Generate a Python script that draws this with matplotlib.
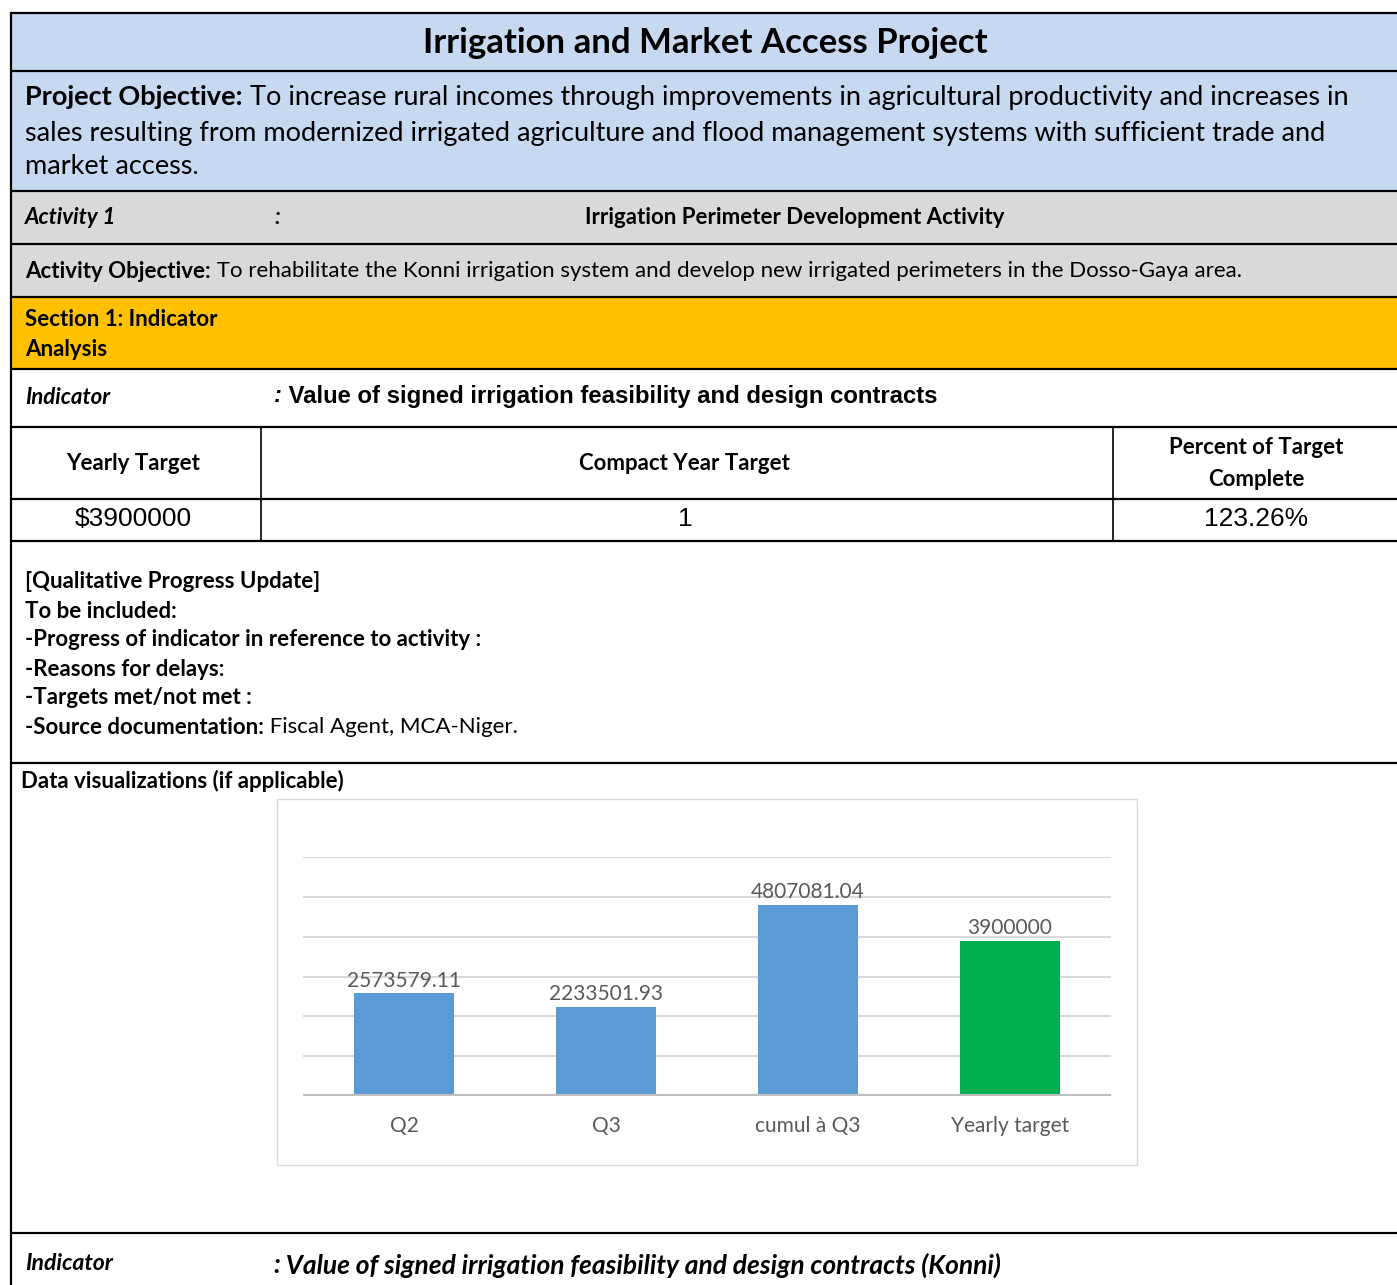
import matplotlib
matplotlib.use("Agg")
import matplotlib.pyplot as plt
from matplotlib.patches import Rectangle

# chart data
categories = ["Q2", "Q3", "cumul à Q3", "Yearly target"]
values = [2573579.11, 2233501.93, 4807081.04, 3900000]
value_labels = ["2573579.11", "2233501.93", "4807081.04", "3900000"]
bar_colors = ["#5B9BD5", "#5B9BD5", "#5B9BD5", "#00B050"]

W, H = 1397, 1285
fig = plt.figure(figsize=(W / 100, H / 100), dpi=100)
bg = fig.add_axes([0, 0, 1, 1])
bg.set_xlim(0, W)
bg.set_ylim(H, 0)
bg.axis("off")

CAL = "Lato"
ARIAL = "Liberation Sans"
LEFT = 11
FS = 16  # body text size

# row fills
rows = [(13, 71, "#C6D9F1"), (71, 191, "#C6D9F1"), (191, 244, "#D9D9D9"),
        (244, 297, "#D9D9D9"), (297, 369, "#FFC000")]
for top, bot, col in rows:
    bg.add_patch(Rectangle((LEFT, top), W - LEFT, bot - top, facecolor=col, edgecolor="none"))

# grid lines of the table
for y in [13, 71, 191, 244, 297, 369, 427, 499, 541, 763, 1233]:
    bg.plot([LEFT, W], [y, y], color="black", lw=1.6, solid_capstyle="butt")
bg.plot([LEFT, LEFT], [13, H], color="black", lw=1.6)
for x in [261, 1113]:
    bg.plot([x, x], [427, 541], color="black", lw=1.2)

renderer = fig.canvas.get_renderer()


def runs(x, y, parts, size, family=CAL):
    for txt, weight, style in parts:
        t = bg.text(x, y, txt, fontsize=size, fontweight=weight, fontstyle=style,
                    family=family, va="center", ha="left", color="black")
        bb = t.get_window_extent(renderer=renderer)
        x = bg.transData.inverted().transform((bb.x1, bb.y0))[0]


bg.text(705, 43, "Irrigation and Market Access Project", fontsize=25, fontweight="bold",
        family=CAL, ha="center", va="center")

runs(25, 97, [("Project Objective:", "bold", "normal"),
              (" To increase rural incomes through improvements in agricultural productivity and increases in",
               "normal", "normal")], 19.5)
runs(25, 133, [("sales resulting from modernized irrigated agriculture and flood management systems with sufficient trade and",
                "normal", "normal")], 19.5)
runs(25, 167, [("market access.", "normal", "normal")], 19.5)

runs(25, 217, [("Activity 1", "bold", "italic")], FS)
runs(274, 217, [(":", "bold", "italic")], FS)
bg.text(795, 217, "Irrigation Perimeter Development Activity", fontsize=FS, fontweight="bold",
        family=CAL, ha="center", va="center")

runs(25, 271, [("Activity Objective:", "bold", "normal"),
               (" To rehabilitate the Konni irrigation system and develop new irrigated perimeters in the Dosso-Gaya area.",
                "normal", "normal")], FS)

runs(25, 319, [("Section 1: Indicator", "bold", "normal")], FS)
runs(25, 349, [("Analysis", "bold", "normal")], FS)

runs(25, 398, [("Indicator", "bold", "italic")], FS)
runs(274, 396, [(":", "bold", "italic"),
                (" Value of signed irrigation feasibility and design contracts", "bold", "normal")], 17.2, ARIAL)

bg.text(133, 463, "Yearly Target", fontsize=FS, fontweight="bold", family=CAL, ha="center", va="center")
bg.text(684, 463, "Compact Year Target", fontsize=FS, fontweight="bold", family=CAL, ha="center", va="center")
bg.text(1256, 447, "Percent of Target", fontsize=FS, fontweight="bold", family=CAL, ha="center", va="center")
bg.text(1256, 479, "Complete", fontsize=FS, fontweight="bold", family=CAL, ha="center", va="center")

bg.text(133, 519, "$3900000", fontsize=19, family=ARIAL, ha="center", va="center")
bg.text(685, 519, "1", fontsize=19, family=ARIAL, ha="center", va="center")
bg.text(1256, 519, "123.26%", fontsize=19, family=ARIAL, ha="center", va="center")

qual = ["[Qualitative Progress Update]", "To be included:",
        "-Progress of indicator in reference to activity :", "-Reasons for delays:",
        "-Targets met/not met :"]
qual_y = [581, 611, 639, 669, 697]
for line, y in zip(qual, qual_y):
    runs(25, y, [(line, "bold", "normal")], FS)
runs(25, 727, [("-Source documentation:", "bold", "normal"),
               (" Fiscal Agent, MCA-Niger.", "normal", "normal")], FS)

runs(21, 781, [("Data visualizations (if applicable)", "bold", "normal")], FS)

runs(25, 1263, [("Indicator", "bold", "italic")], 16.6)
runs(273, 1265, [(":", "bold", "italic"),
                 (" Value of signed irrigation feasibility and design contracts (Konni)", "bold", "italic")], 19)

# chart frame
bg.add_patch(Rectangle((277, 799), 860, 366, facecolor="white", edgecolor="#D9D9D9", lw=1))

ax = fig.add_axes([303 / W, (H - 1096) / H, 808 / W, 239 / H])
x = list(range(len(categories)))
ax.bar(x, values, width=0.495, color=bar_colors, zorder=3)
ax.set_xlim(-0.5, 3.5)
ax.set_ylim(0, 6000000)
ax.set_yticks([1e6, 2e6, 3e6, 4e6, 5e6, 6e6])
ax.yaxis.grid(True, color="#D9D9D9", lw=1.5, zorder=0)
ax.axhline(0, color="#BFBFBF", lw=3, zorder=4)
ax.tick_params(axis="y", left=False, labelleft=False)
ax.tick_params(axis="x", bottom=False, pad=11, labelsize=15, labelcolor="#595959")
ax.set_xticks(x)
ax.set_xticklabels(categories, family=CAL)
for s in ax.spines.values():
    s.set_visible(False)
for xi, v, lab in zip(x, values, value_labels):
    ax.annotate(lab, (xi, v), xytext=(0, 2), textcoords="offset points", ha="center",
                va="bottom", fontsize=15, color="#595959", family=CAL)

fig.savefig("out.png", dpi=100)
